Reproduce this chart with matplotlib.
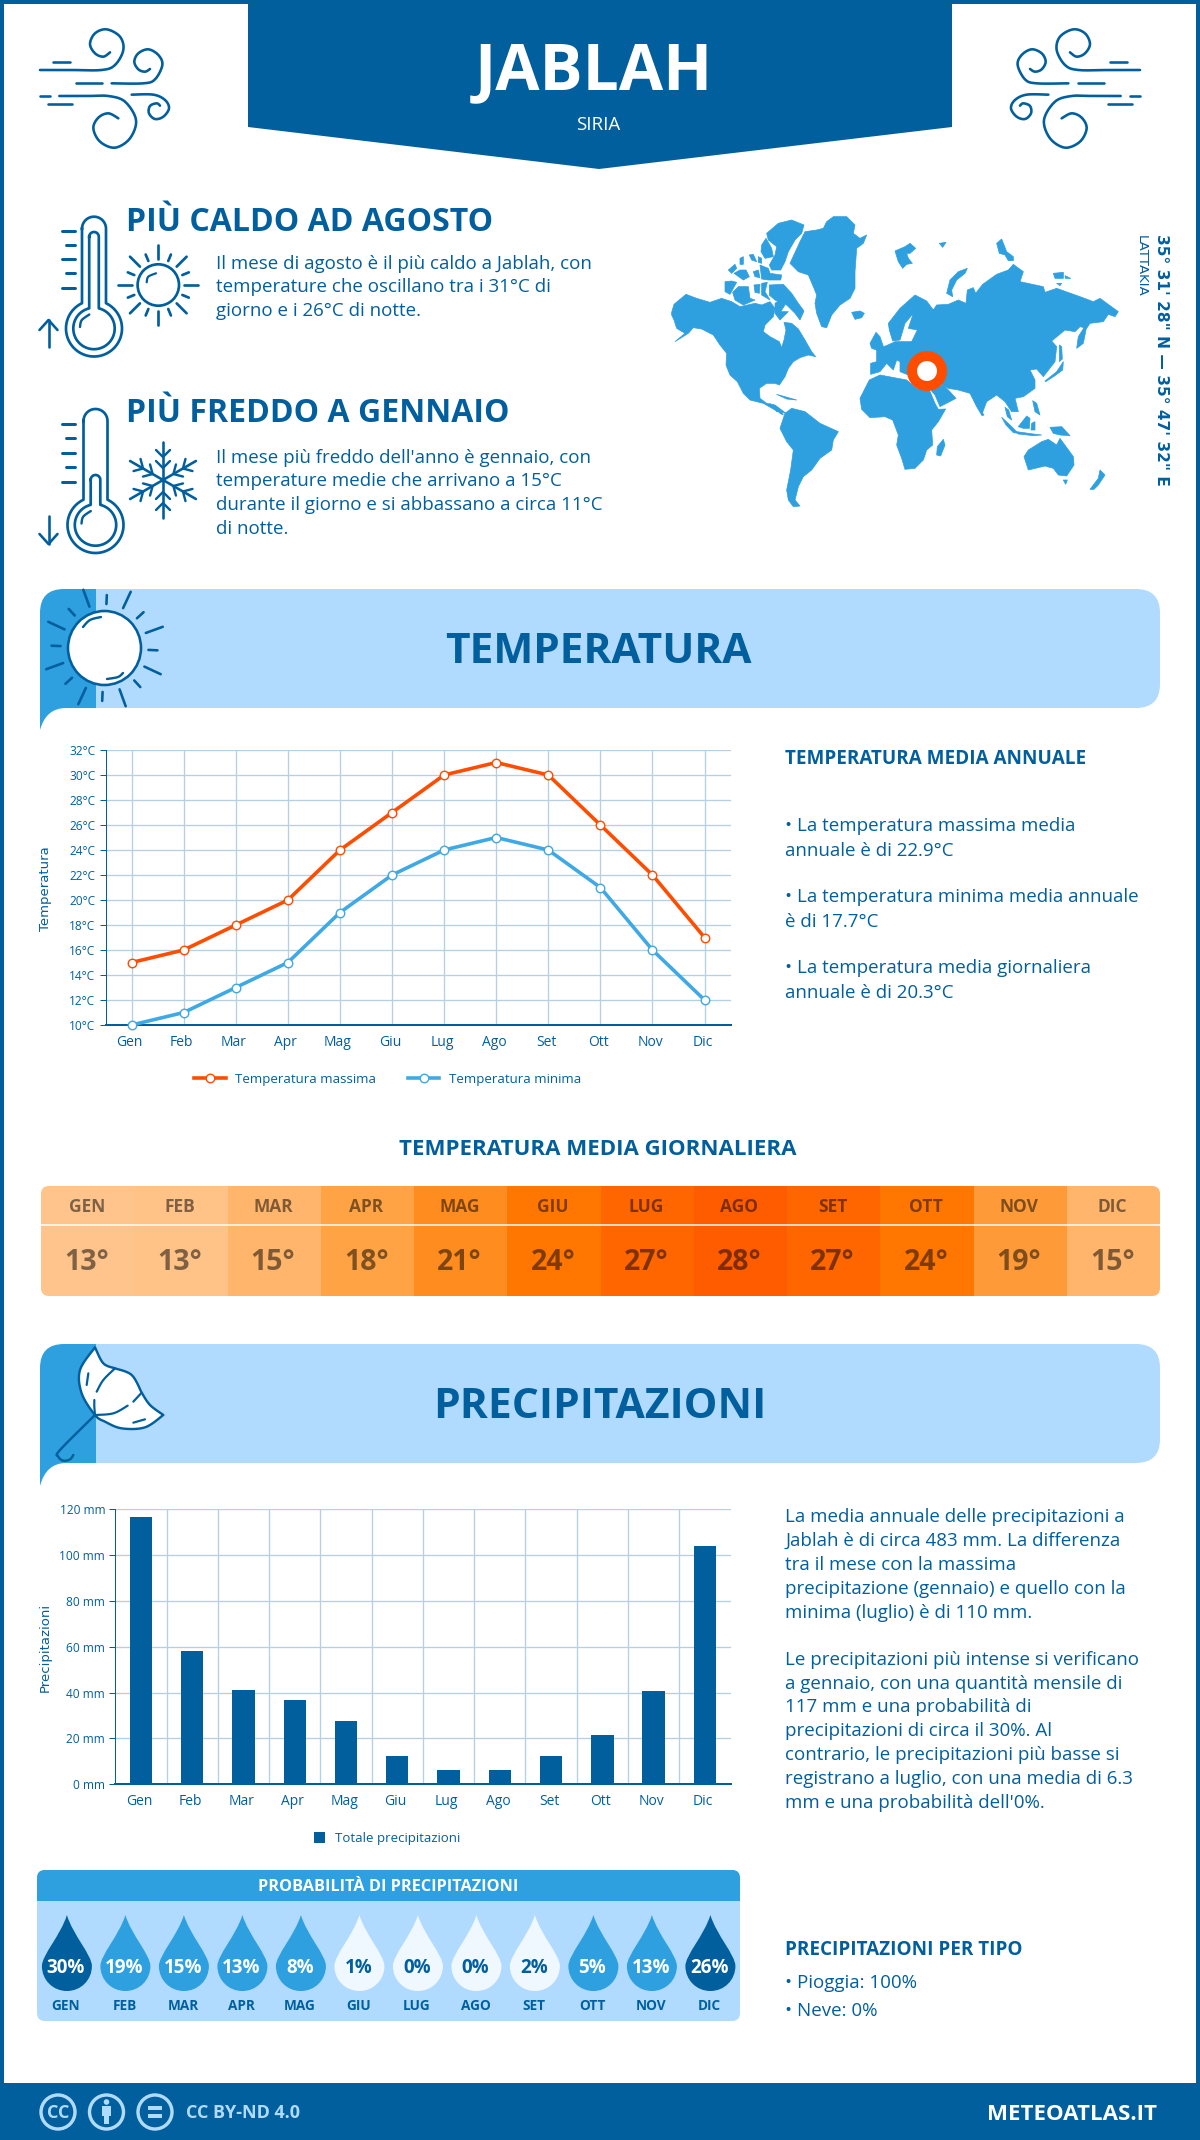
import numpy as np
import matplotlib
matplotlib.use('Agg')
import matplotlib.pyplot as plt
from matplotlib.patches import Circle, Ellipse, FancyBboxPatch, PathPatch, Polygon, Rectangle
from matplotlib.path import Path
from matplotlib.transforms import ScaledTranslation

NAVY = '#015f9e'
MID = '#2e9fdf'
LIGHT = '#b0dbff'
ORANGE = '#ff4d00'
GRID = '#b5cfe3'
PALE = '#eff7ff'

plt.rcParams['font.family'] = ['Open Sans', 'DejaVu Sans']

months = ['Gen', 'Feb', 'Mar', 'Apr', 'Mag', 'Giu', 'Lug', 'Ago', 'Set', 'Ott', 'Nov', 'Dic']
temp_max = [15, 16, 18, 20, 24, 27, 30, 31, 30, 26, 22, 17]
temp_min = [10, 11, 13, 15, 19, 22, 24, 25, 24, 21, 16, 12]
temp_ticks = list(range(10, 33, 2))
temp_mean = [13, 13, 15, 18, 21, 24, 27, 28, 27, 24, 19, 15]
heat_colors = ['#ffc48b', '#ffc287', '#ffb66c', '#ffa344', '#ff8c1e', '#ff7700',
               '#ff6600', '#ff5c00', '#ff6600', '#ff7700', '#ff9a38', '#ffb66c']
rain = [116.7, 58, 41, 36.6, 27.5, 12.3, 6.3, 6.3, 12.3, 21.4, 40.6, 104]
rain_ticks = list(range(0, 121, 20))
rain_prob = [30, 19, 15, 13, 8, 1, 0, 0, 2, 5, 13, 26]

fig = plt.figure(figsize=(12, 21.4), dpi=100)
# pixel canvas for everything that is not a chart
bg = fig.add_axes([0, 0, 1, 1])
bg.set_xlim(0, 1200)
bg.set_ylim(2140, 0)
bg.axis('off')


def px(v):
    return v * 0.72


def put(x, y, s, size, weight='normal', color=NAVY, ha='left', **kw):
    return bg.text(x, y, s, fontsize=size, fontweight=weight, color=color, ha=ha, va='baseline', **kw)


def smooth(pts, n=12):
    # catmull-rom through the points, only used for the drawn icons
    pts = np.array(pts, dtype=float)
    p = np.vstack([pts[0], pts, pts[-1]])
    out = []
    for i in range(1, len(p) - 2):
        for t in np.linspace(0, 1, n, endpoint=False):
            out.append(0.5 * (2 * p[i] + (p[i + 1] - p[i - 1]) * t
                              + (2 * p[i - 1] - 5 * p[i] + 4 * p[i + 1] - p[i + 2]) * t ** 2
                              + (3 * p[i] - p[i - 1] - 3 * p[i + 1] + p[i + 2]) * t ** 3))
    out.append(pts[-1])
    return np.array(out)


def stroke(pts, lw=2.4, color=NAVY, curve=True, z=3):
    a = smooth(pts) if curve else np.array(pts, dtype=float)
    bg.plot(a[:, 0], a[:, 1], color=color, lw=px(lw), solid_capstyle='round', solid_joinstyle='round', zorder=z)


def crop(pts, ox, oy):
    return [(ox + x / 3, oy + y / 3) for x, y in pts]


# page frame and footer
bg.add_patch(Rectangle((0, 0), 1200, 2140, fc='none', ec=NAVY, lw=px(8), zorder=1))
bg.add_patch(Rectangle((0, 2083), 1200, 57, fc=NAVY, ec='none', zorder=1))

# title block
bg.add_patch(Polygon([(248, 0), (952, 0), (952, 127), (599, 169), (248, 127)], fc=NAVY, ec='none'))
put(594, 89, 'JABLAH', 46.2, 'bold', 'white', 'center')
put(598, 130, 'SIRIA', 13.5, 'normal', 'white', 'center')


def wind(flip=False):
    curls = [
        [(30, 150), (120, 150), (215, 150), (255, 135), (280, 90), (270, 50), (230, 28), (195, 40), (180, 72), (195, 100), (220, 110), (240, 97)],
        [(245, 190), (340, 190), (375, 178), (397, 135), (385, 105), (355, 88), (325, 100), (313, 125), (325, 148), (345, 155), (360, 147)],
        [(88, 228), (170, 228), (235, 228), (285, 245), (318, 300), (300, 355), (255, 383), (210, 365), (190, 325), (205, 293), (235, 280), (265, 295)],
        [(305, 224), (370, 224), (405, 240), (417, 265), (400, 290), (375, 297), (357, 280), (360, 258), (380, 250), (390, 257)],
    ]
    dashes = [[(68, 125), (120, 125)], [(138, 190), (215, 190)], [(30, 228), (60, 228)], [(55, 253), (125, 253)]]
    for c, is_curve in [(c, True) for c in curls] + [(d, False) for d in dashes]:
        pts = crop(c, 30, 20)
        if flip:
            pts = [(1180 - a, b) for a, b in pts]
        stroke(pts, 2.6, curve=is_curve)


wind()
wind(True)


def thermometer(top, cy, cx, fluid_top):
    for w, r, tp in [(12, 28, top), (4.8, 20.7, fluid_top)]:
        cap = np.radians(np.linspace(180, 360, 30))
        off = np.arcsin(w / r)
        a = np.linspace(-np.pi / 2 + off, 3 * np.pi / 2 - off, 90)
        xs = np.r_[cx + w * np.cos(cap), cx + r * np.cos(a), cx - w]
        ys = np.r_[tp + w + w * np.sin(cap), cy + r * np.sin(a), tp + w]
        bg.plot(xs, ys, color=NAVY, lw=px(2.7), solid_joinstyle='round')
    stroke([(cx - 14, cy - 1.5), (cx - 12.3, cy - 8.3), (cx - 4.7, cy - 14)], 2.4)


def ticks_and_arrow(ys, arrow_y, up):
    for i, y in enumerate(ys):
        stroke([(62.3 if i % 2 == 0 else 66, y), (75, y)], 3, curve=False)
    stroke([(48.5, arrow_y[0]), (48.5, arrow_y[1])], 2.6, curve=False)
    tip = arrow_y[0] if up else arrow_y[1]
    d = 10 if up else -10
    stroke([(39.5, tip + d), (48.5, tip), (57.5, tip + d)], 2.6, curve=False)


thermometer(216.7, 328.5, 94, 232)
ticks_and_arrow([230.7, 245, 259.3, 273.3, 287.7], (320, 347), True)
thermometer(409, 525, 95.5, 475)
ticks_and_arrow([424, 438, 453, 467, 482], (516, 544), False)


def sun_rays(cx, cy, r0, r1, r2, n, lw, color=NAVY, start=0):
    for i in range(n):
        a = np.radians(start + i * 360 / n)
        r = r1 if i % 2 else r2
        stroke([(cx + r0 * np.cos(a), cy + r0 * np.sin(a)), (cx + r * np.cos(a), cy + r * np.sin(a))], lw, color, curve=False)


# small sun
bg.add_patch(Circle((158.3, 285), 20.7, fc='white', ec=NAVY, lw=px(2.7)))
sun_rays(158.3, 285, 26, 33, 40, 16, 2.7)
stroke([(146.7, 282.3), (148.3, 276.7), (156, 273.3)], 2.2)

# snowflake
for k in range(6):
    a = np.radians(90 + k * 60)
    u = np.array([np.cos(a), np.sin(a)])
    v = np.array([-u[1], u[0]])
    c = np.array([163, 480])
    stroke([c, c + 38 * u], 2.6, curve=False)
    for d, w in [(30, 7), (19, 7)]:
        stroke([c + d * u + w * v, c + (d - w) * u, c + d * u - w * v], 2.4, curve=False)

# headings with their paragraphs
put(126, 231, 'PIÙ CALDO AD AGOSTO', 23, 'bold')
for y, s in zip([269, 292.5, 316], ['Il mese di agosto è il più caldo a Jablah, con',
                                    'temperature che oscillano tra i 31°C di',
                                    'giorno e i 26°C di notte.']):
    put(215.5, y, s, 13.5)
put(126, 422, 'PIÙ FREDDO A GENNAIO', 23, 'bold')
for y, s in zip([463, 486.5, 510, 534], ["Il mese più freddo dell'anno è gennaio, con",
                                         'temperature medie che arrivano a 15°C',
                                         'durante il giorno e si abbassano a circa 11°C',
                                         'di notte.']):
    put(215.5, y, s, 13.5)

land_west = [
    [(35, 322), (42, 298), (78, 268), (110, 280), (150, 292), (185, 280), (215, 290), (240, 305), (285, 295), (305, 300),
     (330, 290), (345, 310), (340, 335), (315, 360), (310, 380), (330, 395), (358, 410), (365, 428), (372, 405), (378, 375),
     (372, 352), (395, 355), (415, 372), (435, 405), (455, 440), (467, 455), (445, 450), (420, 458), (400, 470), (385, 490),
     (375, 515), (358, 540), (345, 535), (320, 535), (298, 550), (300, 580), (320, 595), (345, 600), (378, 625), (345, 615),
     (310, 595), (270, 585), (250, 565), (232, 530), (210, 510), (198, 480), (200, 445), (180, 420), (160, 390), (125, 372),
     (100, 368), (85, 385), (45, 410), (75, 385), (50, 370), (42, 345), (35, 330)],
    [(320, 85), (355, 55), (395, 45), (432, 60), (425, 85), (405, 105), (385, 140), (375, 170), (362, 195), (335, 195),
     (328, 180), (345, 150), (350, 125), (325, 105)],
    [(305, 120), (318, 100), (335, 130), (340, 155), (315, 160), (303, 140)],
    [(205, 195), (225, 178), (230, 190), (215, 205)],
    [(222, 205), (240, 195), (258, 195), (268, 215), (250, 225)],
    [(268, 150), (280, 148), (290, 170), (275, 165)],
    [(295, 155), (305, 160), (305, 175), (295, 172)],
    [(240, 160), (250, 155), (250, 178), (240, 178)],
    [(280, 200), (295, 195), (300, 218), (285, 215)],
    [(300, 180), (325, 190), (330, 205), (365, 210), (362, 225), (325, 225), (305, 222)],
    [(195, 230), (215, 228), (230, 232), (210, 268), (195, 260)],
    [(218, 262), (235, 245), (265, 245), (270, 280), (285, 285), (250, 300), (225, 285)],
    [(282, 240), (300, 238), (298, 265), (285, 262)],
    [(305, 235), (322, 232), (315, 260), (330, 285), (305, 270)],
    [(328, 240), (370, 238), (395, 265), (415, 295), (432, 318), (420, 345), (405, 325), (380, 300), (345, 285), (328, 270)],
    [(345, 295), (358, 285), (375, 300), (362, 320), (385, 320), (360, 345), (345, 325)],
    [(390, 175), (420, 110), (435, 80), (470, 75), (490, 70), (500, 50), (520, 35), (560, 35), (585, 60), (580, 85),
     (600, 100), (620, 90), (610, 115), (590, 130), (585, 200), (585, 250), (570, 280), (540, 300), (515, 330), (500, 368),
     (485, 365), (470, 325), (465, 295), (470, 270), (460, 245), (445, 210), (415, 200)],
    [(575, 322), (600, 318), (613, 325), (605, 338), (585, 343)],
    [(350, 568), (385, 578), (410, 585), (380, 582)],
    [(630, 415), (648, 382), (660, 395), (672, 430), (650, 435), (635, 430)],
]
land_east = [
    [(45, 108), (75, 95), (90, 85), (107, 100), (90, 115), (80, 115), (85, 130), (97, 145), (80, 148), (68, 160), (55, 140)],
    [(178, 85), (198, 82), (188, 97)],
    [(350, 85), (365, 72), (380, 110), (400, 125), (400, 137), (385, 137), (375, 120), (358, 115)],
    [(200, 235), (210, 195), (235, 170), (262, 160), (255, 175), (230, 195), (215, 225), (218, 245)],
    [(25, 325), (60, 280), (105, 240), (140, 258), (160, 285), (150, 305), (135, 290), (150, 300), (170, 270), (205, 268),
     (235, 255), (258, 265), (262, 225), (280, 218), (287, 235), (308, 208), (350, 178), (385, 165), (400, 148), (430, 170),
     (420, 200), (490, 215), (495, 232), (530, 220), (600, 245), (640, 260), (660, 250), (715, 290), (705, 305), (685, 298),
     (670, 320), (630, 325), (620, 340), (600, 335), (585, 350), (555, 345), (515, 378), (530, 395), (525, 440), (490, 485),
     (470, 462), (450, 465), (465, 495), (465, 520), (430, 545), (405, 550), (415, 590), (395, 590), (375, 560), (350, 540),
     (320, 560), (305, 600), (290, 575), (270, 535), (235, 525), (205, 520), (170, 500), (140, 525), (85, 480), (60, 470),
     (60, 440), (50, 435), (40, 465), (20, 445), (0, 470), (-28, 478), (-28, 445), (-10, 440), (-10, 405), (0, 400), (35, 385),
     (45, 380), (95, 380), (112, 345), (85, 340), (100, 295), (75, 325), (60, 375), (38, 378), (28, 345)],
    [(590, 400), (595, 365), (622, 322), (618, 345), (610, 385)],
    [(495, 498), (530, 470), (550, 440), (548, 465), (525, 482), (497, 500)],
    [(538, 390), (545, 395), (547, 432), (538, 440)],
    [(520, 175), (550, 172), (550, 190), (525, 190)],
    [(555, 182), (572, 190), (556, 190)],
    [(530, 205), (545, 205), (540, 212)],
]
land_south = [
    [(270, 85), (298, 30), (330, 15), (410, 30), (440, 55), (478, 60), (495, 100), (505, 118), (527, 117), (505, 155),
     (485, 180), (488, 225), (470, 240), (460, 270), (435, 295), (405, 298), (395, 265), (380, 225), (385, 195), (368, 150),
     (345, 140), (300, 143), (275, 118)],
    [(478, 55), (520, 45), (535, 60), (558, 85), (510, 110), (495, 75)],
    [(30, 175), (45, 130), (65, 115), (105, 125), (150, 160), (205, 185), (190, 210), (185, 240), (150, 265), (125, 300),
     (100, 320), (85, 350), (75, 390), (90, 408), (70, 410), (55, 390), (50, 360), (62, 300), (70, 240), (50, 215)],
    [(0, 100), (20, 125), (35, 125), (40, 135), (30, 130)],
    [(500, 255), (502, 230), (520, 208), (525, 225), (512, 258)],
    [(762, 260), (775, 240), (815, 215), (835, 208), (860, 225), (870, 205), (910, 260), (912, 285), (890, 318), (865, 315),
     (850, 295), (825, 288), (775, 300)],
    [(880, 330), (892, 330), (887, 343)],
    [(960, 358), (985, 325), (990, 300), (1005, 315), (985, 345), (972, 358)],
    [(695, 142), (720, 165), (745, 190), (730, 188), (708, 165)],
    [(740, 185), (790, 192), (815, 195), (790, 197), (745, 192)],
    [(745, 170), (770, 138), (780, 145), (778, 175), (760, 175)],
    [(785, 160), (795, 155), (795, 180), (783, 180)],
    [(840, 172), (875, 170), (900, 197), (870, 195), (850, 190)],
    [(788, 92), (800, 100), (810, 135), (795, 125)],
    [(635, 125), (642, 135), (636, 137)],
    [(705, 112), (716, 120), (725, 150), (712, 140)],
]
for polys, ox, oy in [(land_west, 660, 205), (land_east, 880, 215), (land_south, 770, 370)]:
    for poly in polys:
        bg.add_patch(Polygon(crop(poly, ox, oy), fc=MID, ec=MID, lw=0.5, joinstyle='round'))
bg.add_patch(Circle((927, 371), 15, fc='white', ec=ORANGE, lw=px(10), zorder=3))
bg.text(1161.5, 360, '35° 31\' 28" N — 35° 47\' 32" E', rotation=-90, fontsize=11.1, fontweight='bold', color=NAVY,
        family='DejaVu Sans', ha='center', va='center')
bg.text(1141, 266, 'LATTAKIA', rotation=-90, fontsize=9.6, color=NAVY, family='DejaVu Sans', ha='center', va='center')


def banner(top, bottom, tail, stripe):
    r = 24
    bg.add_patch(PathPatch(Path(
        [(stripe - 5, top), (1160 - r, top), (1160, top), (1160, top + r), (1160, bottom - r), (1160, bottom), (1160 - r, bottom),
         (stripe - 5, bottom), (stripe - 5, top)],
        [Path.MOVETO, Path.LINETO, Path.CURVE3, Path.CURVE3, Path.LINETO, Path.CURVE3, Path.CURVE3, Path.LINETO, Path.CLOSEPOLY]),
        fc=LIGHT, ec='none', zorder=1))
    bg.add_patch(PathPatch(Path(
        [(40, tail), (40, top + r), (40, top), (40 + r, top), (stripe, top), (stripe, bottom), (66, bottom), (46, bottom), (40, tail), (40, tail)],
        [Path.MOVETO, Path.LINETO, Path.CURVE3, Path.CURVE3, Path.LINETO, Path.LINETO, Path.LINETO, Path.CURVE3, Path.CURVE3, Path.CLOSEPOLY]),
        fc=MID, ec='none', zorder=1))


banner(589, 708, 730, 96)
put(598.5, 663, 'TEMPERATURA', 30.5, 'bold', ha='center')
banner(1344, 1463, 1486, 96)
put(600, 1418, 'PRECIPITAZIONI', 30.6, 'bold', ha='center')

# big sun in the banner
bg.add_patch(Ellipse((104.5, 648), 73, 74, fc='white', ec=NAVY, lw=px(2.6), zorder=4))
sun_rays(104.5, 648, 44, 53, 62, 16, 2.6, start=-20)
stroke([(83, 627), (90, 620), (101, 617)], 2.4, z=5)
stroke([(107, 679), (118, 677), (123, 673)], 2.4, z=5)

# umbrella
canopy = (crop(smooth([(180, 22), (205, 70), (240, 85)]), 35, 1340) + crop(smooth([(240, 85), (290, 105), (320, 158)]), 35, 1340)
          + crop(smooth([(320, 158), (345, 195), (385, 225)]), 35, 1340)
          + crop(smooth([(385, 225), (330, 262), (260, 265), (210, 245), (180, 225), (140, 160), (135, 90), (180, 22)]), 35, 1340))
bg.add_patch(Polygon(canopy, fc='white', ec=NAVY, lw=px(2.4), zorder=4, joinstyle='round'))
stroke(crop([(240, 85), (205, 120), (185, 155)], 35, 1340), 2.2, z=5)
stroke(crop([(178, 180), (178, 200), (180, 225)], 35, 1340), 2.2, z=5)
stroke(crop([(320, 158), (295, 185)], 35, 1340), 2.2, curve=False, z=5)
stroke(crop([(278, 197), (235, 220), (180, 225)], 35, 1340), 2.2, z=5)
stroke(crop([(160, 100), (155, 135)], 35, 1340), 2.2, curve=False, z=5)
stroke(crop([(295, 248), (330, 238)], 35, 1340), 2.2, curve=False, z=5)
stroke(crop([(180, 225), (75, 330), (70, 350), (85, 362), (105, 358), (115, 345)], 35, 1340), 2.4, z=5)

# side texts next to the temperature chart
put(785, 764, 'TEMPERATURA MEDIA ANNUALE', 13.6, 'bold')
for y, s in zip([831, 856, 902, 927, 973, 998], ['• La temperatura massima media', 'annuale è di 22.9°C',
                                                 '• La temperatura minima media annuale', 'è di 17.7°C',
                                                 '• La temperatura media giornaliera', 'annuale è di 20.3°C']):
    put(785, y, s, 13.5)


def style_axes(a):
    a.set_xlim(-0.5, 11.5)
    a.set_axisbelow(True)
    a.tick_params(axis='x', which='major', length=0, colors=NAVY, labelsize=10, pad=7)
    a.tick_params(axis='y', length=px(6), width=px(1), color=NAVY, labelcolor=NAVY, labelsize=8.6, pad=3)
    for side in ['top', 'right']:
        a.spines[side].set_visible(False)
    a.spines['left'].set_color(NAVY)
    a.spines['left'].set_linewidth(px(1))
    a.spines['bottom'].set_color(NAVY)
    a.spines['bottom'].set_linewidth(px(2))
    # month labels sit a little left of their ticks
    for lab in a.get_xticklabels():
        lab.set_transform(lab.get_transform() + ScaledTranslation(-2 / 100, 0, fig.dpi_scale_trans))
    a.yaxis.label.set_verticalalignment('center')


# temperature chart
ax = fig.add_axes([105.6 / 1200, 1 - 1025 / 2140, 625 / 1200, 275 / 2140], facecolor='none')
x = np.arange(len(months))
ax.plot(x, temp_max, color=ORANGE, lw=px(3.6), marker='o', ms=px(8.5), mfc='white', mec=ORANGE, mew=px(1.4),
        label='Temperatura massima', clip_on=False, zorder=5)
ax.plot(x, temp_min, color='#3fa9e6', lw=px(3.6), marker='o', ms=px(8.5), mfc='white', mec='#3fa9e6', mew=px(1.4),
        label='Temperatura minima', clip_on=False, zorder=5)
ax.set_ylim(10, 32)
ax.set_xticks(x, months)
ax.set_yticks(temp_ticks, ['%d°C' % t for t in temp_ticks])
ax.set_ylabel('Temperatura', family='DejaVu Sans', fontsize=9.5, color=NAVY)
ax.yaxis.set_label_coords((46 - 105.6) / 625, (1025 - 889) / 275)
ax.grid(True, color=GRID, lw=px(1.3))
style_axes(ax)
ax.legend(loc='center', bbox_to_anchor=(387.5 / 1200, 1 - 1079.6 / 2140), bbox_transform=fig.transFigure, ncol=2, frameon=False,
          fontsize=9.5, labelcolor=NAVY, handlelength=2.4, handletextpad=0.7, columnspacing=2.4)

# daily mean table
put(598, 1155, 'TEMPERATURA MEDIA GIORNALIERA', 16, 'bold', ha='center')
clip = FancyBboxPatch((41, 1186), 1119, 110, boxstyle='round,pad=0,rounding_size=8', fc='none', ec='none')
bg.add_patch(clip)
cell = 1119 / 12
for i, (m, t, c) in enumerate(zip(months, temp_mean, heat_colors)):
    rect = Rectangle((41 + i * cell, 1186), cell + 0.5, 110, fc=c, ec='none', zorder=2)
    bg.add_patch(rect)
    rect.set_clip_path(clip)
    cx = 41 + (i + 0.5) * cell - 1
    bg.text(cx, 1212, m.upper(), fontsize=12.5, fontweight='bold', color='black', alpha=0.5, ha='center', va='baseline', zorder=3)
    bg.text(cx, 1270, '%d°' % t, fontsize=20.5, fontweight='bold', color='black', alpha=0.5, ha='center', va='baseline', zorder=3)
bg.plot([41, 1160], [1225, 1225], color='white', lw=px(1.5), zorder=3)

# precipitation chart
ax2 = fig.add_axes([115.4 / 1200, 1 - 1784.3 / 2140, 615.1 / 1200, 275 / 2140], facecolor='none')
ax2.bar(x, rain, width=0.435, color=NAVY, label='Totale precipitazioni', zorder=3)
ax2.set_ylim(0, 120)
ax2.set_xticks(x, months)
ax2.set_xticks(x[:-1] + 0.5, minor=True)
ax2.set_yticks(rain_ticks, ['%d mm' % t for t in rain_ticks])
ax2.set_ylabel('Precipitazioni', family='DejaVu Sans', fontsize=9.5, color=NAVY)
ax2.yaxis.set_label_coords((45 - 115.4) / 615.1, (1784.3 - 1647.7) / 275)
ax2.grid(True, which='major', axis='y', color=GRID, lw=px(1.3))
ax2.grid(True, which='minor', axis='x', color=GRID, lw=px(1.3))
ax2.tick_params(axis='x', which='minor', length=0)
style_axes(ax2)
ax2.legend(loc='center', bbox_to_anchor=(387 / 1200, 1 - 1838.7 / 2140), bbox_transform=fig.transFigure, frameon=False,
           fontsize=9.5, labelcolor=NAVY, handlelength=0.85, handleheight=0.85, handletextpad=0.7)

# side texts next to the precipitation chart
rain_lines = ['La media annuale delle precipitazioni a', 'Jablah è di circa 483 mm. La differenza', 'tra il mese con la massima',
              'precipitazione (gennaio) e quello con la', 'minima (luglio) è di 110 mm.', '',
              'Le precipitazioni più intense si verificano', 'a gennaio, con una quantità mensile di', '117 mm e una probabilità di',
              'precipitazioni di circa il 30%. Al', 'contrario, le precipitazioni più basse si',
              'registrano a luglio, con una media di 6.3', "mm e una probabilità dell'0%."]
for i, s in enumerate(rain_lines):
    put(785, 1522.5 + i * 23.75, s, 13.5)
put(785, 1955, 'PRECIPITAZIONI PER TIPO', 13.6, 'bold')
put(785, 1988, '• Pioggia: 100%', 13.5)
put(785, 2016, '• Neve: 0%', 13.5)

# probability panel
bg.add_patch(FancyBboxPatch((37, 1870), 703, 151, boxstyle='round,pad=0,rounding_size=8', fc=LIGHT, ec='none', zorder=1))
head = FancyBboxPatch((37, 1870), 703, 60, boxstyle='round,pad=0,rounding_size=8', fc=MID, ec='none', zorder=1)
bg.add_patch(head)
head.set_clip_path(Rectangle((37, 1870), 703, 31, transform=bg.transData))
put(388.5, 1891, 'PROBABILITÀ DI PRECIPITAZIONI', 11.7, 'bold', 'white', 'center', zorder=4)
for i, (m, p) in enumerate(zip(months, rain_prob)):
    cx = 66.9 + i * 58.5
    fill = NAVY if p >= 20 else (MID if p >= 3 else PALE)
    ink = NAVY if p < 3 else 'white'
    drop = Path([(cx, 1915), (cx + 6, 1935), (cx + 25, 1955), (cx + 25, 1966), (cx + 25, 1980), (cx + 14, 1991), (cx, 1991),
                 (cx - 14, 1991), (cx - 25, 1980), (cx - 25, 1966), (cx - 25, 1955), (cx - 6, 1935), (cx, 1915), (cx, 1915)],
                [Path.MOVETO] + [Path.CURVE4] * 12 + [Path.CLOSEPOLY])
    bg.add_patch(PathPatch(drop, fc=fill, ec='none', zorder=2))
    put(cx - 1, 1973, '%d%%' % p, 13.5, 'bold', ink, 'center', zorder=3)
    put(cx - 1, 2010, m.upper(), 9.8, 'bold', NAVY, 'center', zorder=3)

# footer
for cx in [58, 106.5, 155]:
    bg.add_patch(Circle((cx, 2112), 17, fc='none', ec=LIGHT, lw=px(3.4), zorder=3))
put(58, 2117.5, 'CC', 13, 'bold', LIGHT, 'center', zorder=3)
bg.add_patch(Circle((106.5, 2102), 2.8, fc=LIGHT, ec='none', zorder=3))
bg.add_patch(Rectangle((102, 2106), 9, 10, fc=LIGHT, ec='none', zorder=3))
bg.add_patch(Rectangle((104, 2115), 5, 9, fc=LIGHT, ec='none', zorder=3))
bg.add_patch(Rectangle((148, 2106), 14, 3.5, fc=LIGHT, ec='none', zorder=3))
bg.add_patch(Rectangle((148, 2114), 14, 3.5, fc=LIGHT, ec='none', zorder=3))
put(185.5, 2118, 'CC BY-ND 4.0', 13, 'bold', LIGHT, zorder=3)
put(1157, 2120, 'METEOATLAS.IT', 16, 'bold', 'white', 'right', zorder=3)

fig.savefig('out.png', dpi=100)
